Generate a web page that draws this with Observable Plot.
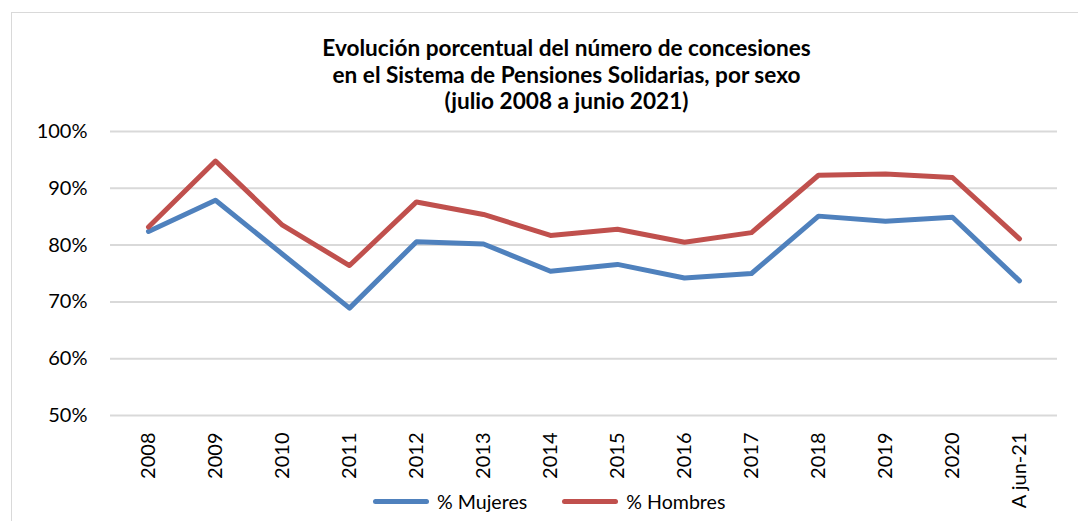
<!DOCTYPE html>
<html>
<head>
<meta charset="utf-8">
<script src="https://cdn.jsdelivr.net/npm/d3@7"></script>
<script src="https://cdn.jsdelivr.net/npm/@observablehq/plot@0.6"></script>
<style>
  html, body { margin: 0; padding: 0; background: #fff; }
  body { width: 1078px; height: 521px; position: relative; overflow: hidden; font-family: Lato, "Open Sans", sans-serif; }
  #frame { position: absolute; left: 11px; top: 12px; width: 1200px; height: 700px; border: 1.5px solid #d9d9d9; box-sizing: border-box; }
  #title { position: absolute; left: 0; width: 1133px; top: 35px; text-align: center; font-weight: bold; font-size: 22.6px; line-height: 26.7px; color: #000; }
  #chart { position: absolute; left: 0; top: 110px; }
  #legend { position: absolute; left: 373px; top: 490px; display: flex; align-items: center; font-size: 19.6px; color: #000; gap: 35px; }
  .item { display: flex; align-items: center; gap: 8px; }
  .sw { width: 56px; height: 5px; border-radius: 3px; }
</style>
</head>
<body>
<div id="frame"></div>
<div id="title">Evolución porcentual del número de concesiones<br>en el Sistema de Pensiones Solidarias, por sexo<br>(julio 2008 a junio 2021)</div>
<div id="chart"></div>
<div id="legend"></div>
<script>
const categories = ["2008","2009","2010","2011","2012","2013","2014","2015","2016","2017","2018","2019","2020","A jun-21"];
const mujeres = [0.824,0.879,0.784,0.689,0.806,0.802,0.754,0.766,0.742,0.750,0.851,0.842,0.849,0.737];
const hombres = [0.832,0.948,0.835,0.764,0.876,0.854,0.817,0.828,0.805,0.822,0.923,0.925,0.919,0.811];
const seriesNames = ["% Mujeres", "% Hombres"];
const seriesColors = ["#4F81BD", "#C0504D"];
const yTicks = [0.5, 0.6, 0.7, 0.8, 0.9, 1.0];

const data = [];
categories.forEach((c, i) => data.push({cat: c, value: mujeres[i], series: seriesNames[0]}));
categories.forEach((c, i) => data.push({cat: c, value: hombres[i], series: seriesNames[1]}));

const chart = Plot.plot({
  width: 1078,
  height: 411,
  marginLeft: 110,
  marginRight: 21,
  marginTop: 21,
  marginBottom: 106,
  style: {fontFamily: "Lato, 'Open Sans', sans-serif", fontSize: "20px", color: "#000", background: "transparent"},
  x: {domain: categories, type: "point", padding: 0.5, label: null},
  y: {domain: [0.5, 1.0], label: null},
  color: {domain: seriesNames, range: seriesColors},
  marks: [
    Plot.gridY(yTicks, {stroke: "#d9d9d9", strokeOpacity: 1, strokeWidth: 2}),
    Plot.axisY(yTicks, {tickFormat: d3.format(".0%"), tickSize: 0, tickPadding: 23, fontSize: 20, fill: "#000", label: null}),
    Plot.axisX({tickRotate: -90, tickSize: 0, tickPadding: 17, fontSize: 20, fill: "#000", label: null}),
    Plot.line(data, {x: "cat", y: "value", z: "series", stroke: "series", strokeWidth: 5, strokeLinejoin: "round", strokeLinecap: "round"})
  ]
});
document.getElementById("chart").appendChild(chart);

const legend = document.getElementById("legend");
seriesNames.forEach((name, i) => {
  const item = document.createElement("div");
  item.className = "item";
  const sw = document.createElement("div");
  sw.className = "sw";
  sw.style.background = seriesColors[i];
  const label = document.createElement("span");
  label.textContent = name;
  item.appendChild(sw);
  item.appendChild(label);
  legend.appendChild(item);
});
</script>
</body>
</html>
